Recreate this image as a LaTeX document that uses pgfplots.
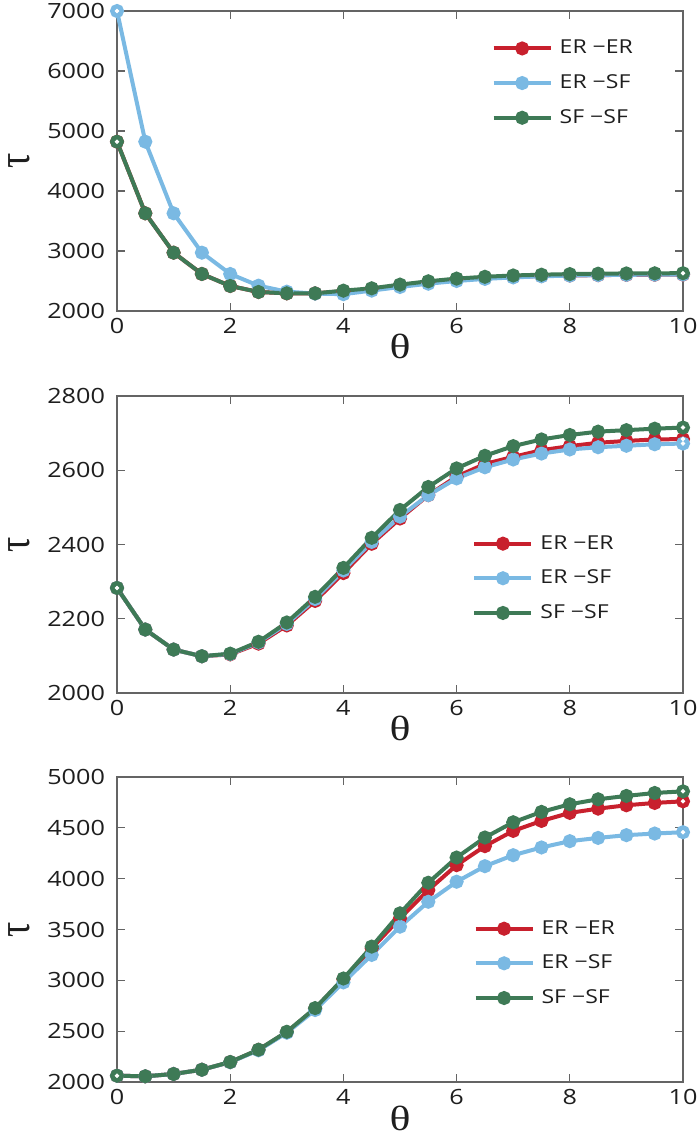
\documentclass[border=0pt]{standalone}
\usepackage{fontspec}
\setmainfont{Open Sans}[FakeStretch=1.2]
\newfontfamily\gk{Liberation Serif}[FakeStretch=1.25]
\newfontfamily\gkplain{Liberation Serif}
\usepackage{graphicx}
\usepackage{pgfplots}
\pgfplotsset{compat=1.18}
\definecolor{cred}{RGB}{200,32,45}
\definecolor{cblue}{RGB}{122,185,227}
\definecolor{cgreen}{RGB}{62,122,86}
\definecolor{axgray}{RGB}{100,100,100}
\definecolor{txt}{RGB}{30,30,30}
\pgfplotsset{
  panel/.style={
    scale only axis, width=283pt, xmin=0, xmax=10, xtick={0,2,...,10},
    axis line style={axgray, line width=0.6pt},
    tick style={axgray, line width=0.6pt}, major tick length=4pt, tick align=inside,
    ticklabel style={font=\fontsize{10.5}{11}\selectfont, text=txt},
    yticklabel style={xshift=-2.5pt},
    /pgf/number format/assume math mode=true,
    /pgf/number format/1000 sep={},
    scaled y ticks=false,
    clip=false,
    xlabel={\gk\fontsize{17.5}{17.5}\selectfont θ},
    xlabel style={at={(axis description cs:0.5,-0.118)}, anchor=center, text=txt},
    ylabel={\scalebox{1}[1.2]{\gkplain\fontsize{19}{19}\selectfont τ}},
    ylabel style={at={(axis description cs:-0.172,0.5)}, anchor=center, inner sep=0pt, text=txt},
    legend style={draw=none, fill=none, inner sep=0pt, outer sep=0pt,
      font=\fontsize{9.6}{10}\selectfont, text=txt, row sep=8.9pt, column sep=3.5pt,
      anchor=north west, nodes={inner sep=0pt}, cells={anchor=west}},
    legend cell align=left,
    legend image code/.code={\draw[mark repeat=2,mark phase=2,##1] plot coordinates {(0pt,0pt) (14.25pt,0pt) (28.5pt,0pt)};},
  },
  ser/.style={line width=2pt, mark=*, mark size=2.5pt, mark options={solid}, color=#1},
  dot/.style={forget plot, only marks, mark=*, mark size=0.9pt, white},
}
\begin{document}
\begin{tikzpicture}
\useasboundingbox (0,0) rectangle (350pt,-567.5pt);
% ---------------- panel 1
\begin{axis}[panel, at={(58.5pt,-5.5pt)}, anchor=north west, height=150pt,
  ymin=2000, ymax=7000, ytick={2000,3000,...,7000},
  legend style={at={(0.662,0.903)}}]
\addplot[ser=cred] coordinates {(0,4822) (0.5,3628) (1,2972) (1.5,2617) (2,2417) (2.5,2317) (3,2294) (3.5,2294) (4,2330) (4.5,2365) (5,2425) (5.5,2478) (6,2522) (6.5,2550) (7,2570) (7.5,2583) (8,2592) (8.5,2598) (9,2602) (9.5,2604) (10,2606)};
\addlegendentry{ER −ER}
\addplot[ser=cblue] coordinates {(0,7000) (0.5,4822) (1,3628) (1.5,2972) (2,2617) (2.5,2422) (3,2322) (3.5,2290) (4,2280) (4.5,2340) (5,2400) (5.5,2455) (6,2500) (6.5,2535) (7,2560) (7.5,2578) (8,2590) (8.5,2598) (9,2603) (9.5,2606) (10,2608)};
\addlegendentry{ER −SF}
\addplot[ser=cgreen] coordinates {(0,4822) (0.5,3628) (1,2972) (1.5,2617) (2,2417) (2.5,2317) (3,2294) (3.5,2294) (4,2339) (4.5,2378) (5,2440) (5.5,2495) (6,2540) (6.5,2570) (7,2592) (7.5,2605) (8,2615) (8.5,2622) (9,2626) (9.5,2628) (10,2630)};
\addlegendentry{SF −SF}
\addplot[dot] coordinates {(0,7000) (0,4822) (10,2630)};
\end{axis}
% ---------------- panel 2
\begin{axis}[panel, at={(58.5pt,-198pt)}, anchor=north west, height=148.5pt,
  ymin=2000, ymax=2800, ytick={2000,2200,...,2800},
  legend style={at={(0.628,0.531)}}]
\addplot[ser=cred] coordinates {(0,2283) (0.5,2171) (1,2117) (1.5,2099) (2,2104) (2.5,2133) (3,2182) (3.5,2248) (4,2323) (4.5,2402) (5,2470) (5.5,2533) (6,2583) (6.5,2617) (7,2636) (7.5,2654) (8,2665) (8.5,2674) (9,2679) (9.5,2683) (10,2684)};
\addlegendentry{ER −ER}
\addplot[ser=cblue] coordinates {(0,2283) (0.5,2171) (1,2117) (1.5,2099) (2,2105) (2.5,2136) (3,2186) (3.5,2253) (4,2330) (4.5,2407) (5,2475) (5.5,2533) (6,2578) (6.5,2608) (7,2629) (7.5,2645) (8,2656) (8.5,2662) (9,2666) (9.5,2670) (10,2672)};
\addlegendentry{ER −SF}
\addplot[ser=cgreen] coordinates {(0,2283) (0.5,2171) (1,2117) (1.5,2099) (2,2106) (2.5,2138) (3,2190) (3.5,2259) (4,2337) (4.5,2418) (5,2493) (5.5,2555) (6,2605) (6.5,2639) (7,2665) (7.5,2683) (8,2695) (8.5,2704) (9,2708) (9.5,2712) (10,2715)};
\addlegendentry{SF −SF}
\addplot[dot] coordinates {(0,2283) (10,2715) (10,2684) (10,2672)};
\end{axis}
% ---------------- panel 3
\begin{axis}[panel, at={(58.5pt,-388.5pt)}, anchor=north west, height=152.5pt,
  ymin=2000, ymax=5000, ytick={2000,2500,...,5000},
  legend style={at={(0.630,0.530)}}]
\addplot[ser=cred] coordinates {(0,2062) (0.5,2056) (1,2079) (1.5,2121) (2,2196) (2.5,2316) (3,2490) (3.5,2722) (4,3010) (4.5,3315) (5,3610) (5.5,3888) (6,4133) (6.5,4320) (7,4470) (7.5,4568) (8,4647) (8.5,4689) (9,4722) (9.5,4745) (10,4761)};
\addlegendentry{ER −ER}
\addplot[ser=cblue] coordinates {(0,2062) (0.5,2056) (1,2079) (1.5,2121) (2,2195) (2.5,2312) (3,2485) (3.5,2708) (4,2980) (4.5,3250) (5,3528) (5.5,3773) (6,3970) (6.5,4123) (7,4231) (7.5,4307) (8,4369) (8.5,4401) (9,4428) (9.5,4444) (10,4457)};
\addlegendentry{ER −SF}
\addplot[ser=cgreen] coordinates {(0,2062) (0.5,2056) (1,2079) (1.5,2121) (2,2197) (2.5,2318) (3,2494) (3.5,2727) (4,3018) (4.5,3332) (5,3659) (5.5,3960) (6,4208) (6.5,4405) (7,4555) (7.5,4657) (8,4732) (8.5,4781) (9,4814) (9.5,4843) (10,4859)};
\addlegendentry{SF −SF}
\addplot[dot] coordinates {(0,2062) (10,4859) (10,4761) (10,4457)};
\end{axis}
\end{tikzpicture}
\end{document}
